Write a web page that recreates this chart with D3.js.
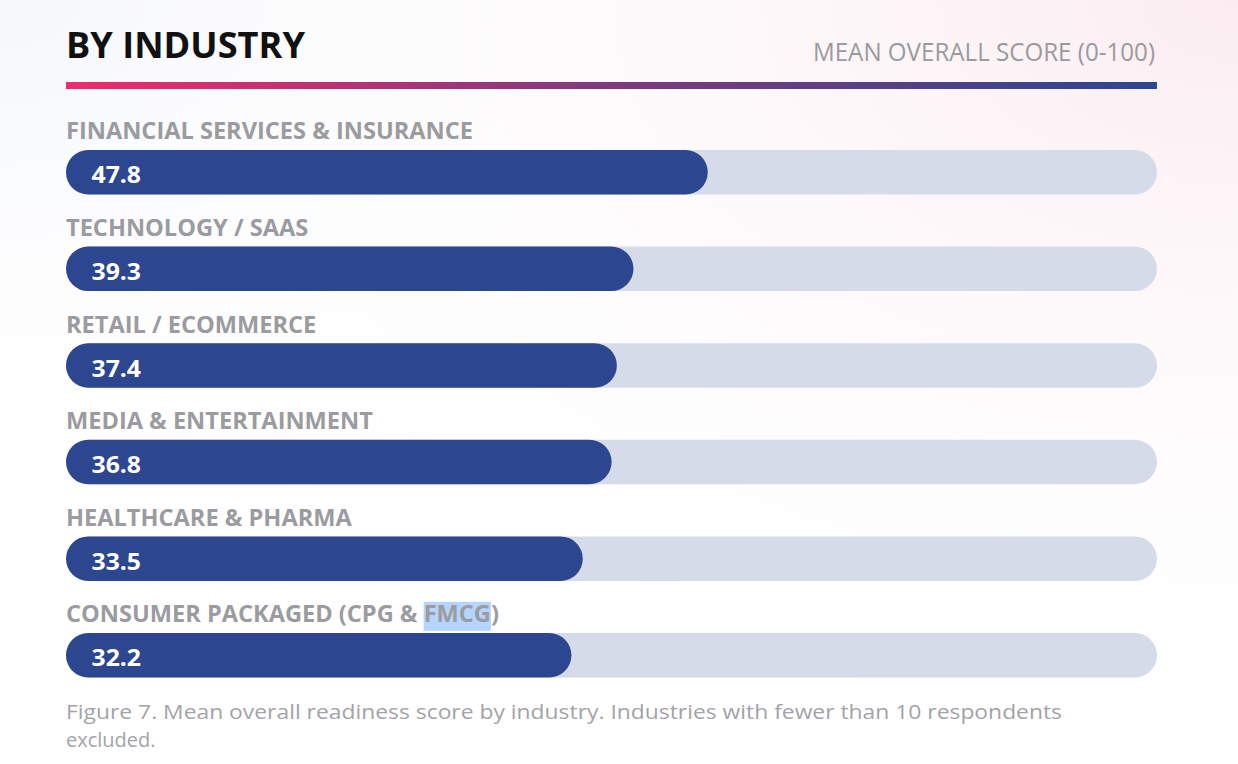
<!DOCTYPE html>
<html>
<head>
<meta charset="utf-8">
<script src="https://cdn.jsdelivr.net/npm/d3@7/dist/d3.min.js"></script>
<style>
  html, body { margin: 0; padding: 0; background: #fff; }
  svg { display: block; }
</style>
</head>
<body>
<svg id="chart" width="1238" height="764"></svg>
<script>
// ---- data ----
const categories = [
  "FINANCIAL SERVICES & INSURANCE",
  "TECHNOLOGY / SAAS",
  "RETAIL / ECOMMERCE",
  "MEDIA & ENTERTAINMENT",
  "HEALTHCARE & PHARMA",
  "CONSUMER PACKAGED (CPG & FMCG)"
];
const scores = [47.8, 39.3, 37.4, 36.8, 33.5, 32.2];
const titleText = "BY INDUSTRY";
const subtitleText = "MEAN OVERALL SCORE (0-100)";
const captionLines = [
  "Figure 7. Mean overall readiness score by industry. Industries with fewer than 10 respondents",
  "excluded."
];
const highlightWord = "FMCG";

// ---- layout ----
const W = 1238, H = 764;
const left = 66, right = 1157;
const barH = 44.5;
const labelFont = "'Open Sans', 'DejaVu Sans', sans-serif";

const svg = d3.select("#chart");
const defs = svg.append("defs");

// background
const bgPink = defs.append("radialGradient").attr("id", "bgPink")
  .attr("cx", 1).attr("cy", 0).attr("r", 1.0);
bgPink.append("stop").attr("offset", 0).attr("stop-color", "#fbecf1").attr("stop-opacity", 1);
bgPink.append("stop").attr("offset", 1).attr("stop-color", "#ffffff").attr("stop-opacity", 0);
const bgBlue = defs.append("radialGradient").attr("id", "bgBlue")
  .attr("cx", 0).attr("cy", 0).attr("r", 0.7);
bgBlue.append("stop").attr("offset", 0).attr("stop-color", "#f5f7fb").attr("stop-opacity", 1);
bgBlue.append("stop").attr("offset", 1).attr("stop-color", "#ffffff").attr("stop-opacity", 0);
svg.append("rect").attr("width", W).attr("height", H).attr("fill", "#ffffff");
svg.append("rect").attr("width", W).attr("height", H).attr("fill", "url(#bgBlue)");
svg.append("rect").attr("width", W).attr("height", H).attr("fill", "url(#bgPink)");

// rule gradient
const lg = defs.append("linearGradient").attr("id", "rule")
  .attr("x1", 0).attr("x2", 1).attr("y1", 0).attr("y2", 0);
lg.append("stop").attr("offset", 0).attr("stop-color", "#ef2c6b");
lg.append("stop").attr("offset", 0.5).attr("stop-color", "#80397f");
lg.append("stop").attr("offset", 1).attr("stop-color", "#2c4691");

// helper: stretch text to a target width
function fitWidth(sel, target) {
  const n = sel.node();
  const w = n.getComputedTextLength();
  return target / w;
}

// title
const title = svg.append("text")
  .attr("x", left).attr("y", 57.5)
  .attr("font-family", labelFont).attr("font-weight", 700)
  .attr("font-size", 35).attr("fill", "#111111")
  .text(titleText);
title.attr("textLength", 239).attr("lengthAdjust", "spacingAndGlyphs");

// subtitle
svg.append("text")
  .attr("x", 1155).attr("y", 60.5)
  .attr("text-anchor", "end")
  .attr("font-family", labelFont).attr("font-weight", 400)
  .attr("font-size", 25).attr("fill", "#9a9a9e")
  .attr("textLength", 342).attr("lengthAdjust", "spacingAndGlyphs")
  .text(subtitleText);

// rule
svg.append("rect")
  .attr("x", left).attr("y", 82).attr("width", right - left).attr("height", 7)
  .attr("fill", "url(#rule)");

// scales
const y = d3.scaleBand().domain(categories).range([150, 150 + 96.6 * categories.length]).padding(0);
// bars keep a fixed lead-in for the value label, then grow with the score
const x = d3.scaleLinear().domain([0, 100]).range([left + 224, left + 224 + 874]);

const rows = svg.append("g").selectAll("g.row")
  .data(categories.map((c, i) => ({ cat: c, val: scores[i] })))
  .join("g").attr("class", "row");

// category labels
const catLabels = rows.append("text")
  .attr("class", "cat")
  .attr("x", left)
  .attr("y", d => y(d.cat) - 10.7)
  .attr("font-family", labelFont).attr("font-weight", 700)
  .attr("font-size", 23).attr("fill", "#9b9ba0")
  .text(d => d.cat);

// stretch factor derived from the first label (reference width 407px)
const k = fitWidth(catLabels.filter((d, i) => i === 0), 407);
catLabels.each(function () {
  const w = this.getComputedTextLength();
  d3.select(this).attr("textLength", w * k).attr("lengthAdjust", "spacingAndGlyphs");
});

// track
rows.append("rect")
  .attr("x", left).attr("y", d => y(d.cat))
  .attr("width", right - left).attr("height", barH)
  .attr("rx", barH / 2).attr("ry", barH / 2)
  .attr("fill", "#d5dbe8");

// bars
rows.append("rect")
  .attr("x", left).attr("y", d => y(d.cat))
  .attr("width", d => x(d.val) - left).attr("height", barH)
  .attr("rx", barH / 2).attr("ry", barH / 2)
  .attr("fill", "#2d4690");

// value labels
const valLabels = rows.append("text")
  .attr("x", 91.5)
  .attr("y", d => y(d.cat) + 33.3)
  .attr("font-family", labelFont).attr("font-weight", 700)
  .attr("font-size", 23).attr("fill", "#ffffff")
  .text(d => d.val.toFixed(1));
const kv = fitWidth(valLabels.filter((d, i) => i === 0), 49.5);
valLabels.each(function () {
  const w = this.getComputedTextLength();
  d3.select(this).attr("textLength", w * kv).attr("lengthAdjust", "spacingAndGlyphs");
});

// selection highlight on "FMCG"
const lastLabel = catLabels.filter((d, i) => i === categories.length - 1);
const lastNode = lastLabel.node();
const idx = lastNode.textContent.indexOf(highlightWord);
if (idx >= 0) {
  const x0 = lastNode.getStartPositionOfChar(idx).x;
  const x1 = lastNode.getEndPositionOfChar(idx + highlightWord.length - 1).x;
  const ly = +lastLabel.attr("y");
  d3.select(lastNode.parentNode).insert("rect", "text")
    .attr("x", x0).attr("y", ly - 20.5)
    .attr("width", x1 - x0).attr("height", 29)
    .attr("fill", "#b4d5fe");
}

// caption
const cap = svg.append("g");
captionLines.forEach((line, i) => {
  const t = cap.append("text")
    .attr("x", left).attr("y", 718.5 + i * 28.4)
    .attr("font-family", labelFont).attr("font-weight", 400)
    .attr("font-size", 20).attr("fill", "#a3a3a8")
    .text(line);
  if (i === 0) {
    t.attr("textLength", 996).attr("lengthAdjust", "spacingAndGlyphs");
    cap.attr("data-k", 996 / t.node().getComputedTextLength());
  } else {
    const kk = +cap.attr("data-k");
    t.attr("textLength", t.node().getComputedTextLength() * kk).attr("lengthAdjust", "spacingAndGlyphs");
  }
});
</script>
</body>
</html>
